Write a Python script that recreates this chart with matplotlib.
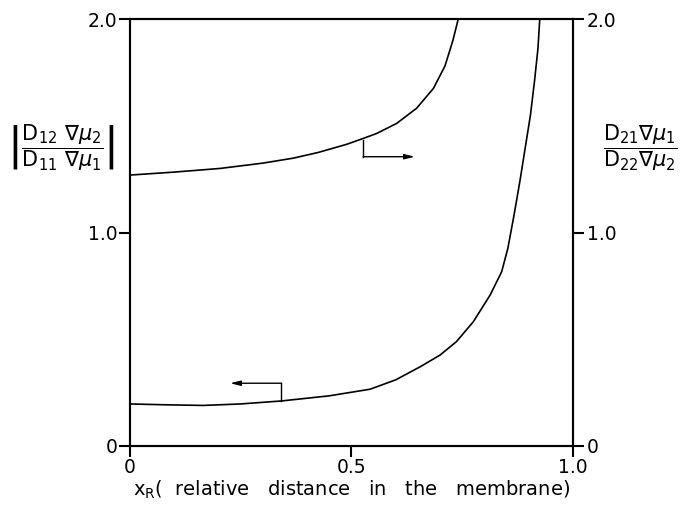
import matplotlib
matplotlib.use('Agg')
import matplotlib.pyplot as plt

# lower curve, read against the left axis
x_left = [0.0, 0.08, 0.165, 0.25, 0.342, 0.45, 0.542, 0.6, 0.655, 0.70, 0.737, 0.775, 0.813,
          0.839, 0.853, 0.867, 0.880, 0.892, 0.904, 0.913, 0.921, 0.925]
y_left = [0.197, 0.193, 0.19, 0.197, 0.211, 0.235, 0.266, 0.31, 0.371, 0.426, 0.489, 0.582, 0.707,
          0.816, 0.926, 1.082, 1.238, 1.394, 1.55, 1.706, 1.863, 2.0]

# upper curve, read against the right axis
x_right = [0.0, 0.1, 0.203, 0.3, 0.368, 0.425, 0.489, 0.527, 0.557, 0.602, 0.647, 0.685, 0.711, 0.729, 0.741]
y_right = [1.269, 1.283, 1.30, 1.325, 1.348, 1.375, 1.413, 1.441, 1.464, 1.511, 1.582, 1.675, 1.78, 1.90, 2.0]

# arrow elbows: start on curve, corner, tip
arrow_left = [(0.342, 0.211), (0.342, 0.294), (0.226, 0.294)]
arrow_right = [(0.526, 1.433), (0.526, 1.355), (0.643, 1.355)]

x_ticks = [0, 0.5, 1.0]
x_ticklabels = ['0', '0.5', '1.0']
y_ticks = [0, 1.0, 2.0]
y_ticklabels = ['0', '1.0', '2.0']

plt.rcParams['font.family'] = ['DejaVu Sans']
plt.rcParams['mathtext.fontset'] = 'dejavusans'

fig = plt.figure(figsize=(6.9, 5.18), dpi=100)
ax = fig.add_axes([0.1884, 0.139, 0.642, 0.8243])
ax2 = ax.twinx()

ax.plot(x_left, y_left, color='black', lw=1.2)
ax2.plot(x_right, y_right, color='black', lw=1.2)

for arr, a in [(arrow_left, ax), (arrow_right, ax2)]:
    a.plot([arr[0][0], arr[1][0]], [arr[0][1], arr[1][1]], color='black', lw=1.0)
    a.annotate('', xy=arr[2], xytext=arr[1],
               arrowprops=dict(arrowstyle='-|>,head_length=0.6,head_width=0.15',
                               color='black', lw=1.0, shrinkA=0, shrinkB=0))

for a in (ax, ax2):
    a.set_xlim(0, 1.0)
    a.set_ylim(0, 2.0)
    for s in a.spines.values():
        s.set_linewidth(1.5)

ax.set_xticks(x_ticks)
ax.set_xticklabels(x_ticklabels)
ax.set_yticks(y_ticks)
ax.set_yticklabels(y_ticklabels)
ax2.set_yticks(y_ticks)
ax2.set_yticklabels(y_ticklabels)
ax.tick_params(axis='both', direction='out', length=8, width=1.5, labelsize=13.5, pad=1)
ax2.tick_params(axis='y', direction='out', length=8, width=1.5, labelsize=13.5, pad=2)

ax.set_xlabel(r'$\mathrm{x_R}$(  relative   distance   in   the   membrane)', fontsize=14, labelpad=1)

fig.text(0.088, 0.715, r'$\left|\dfrac{\mathrm{D_{12}}\ \nabla\mu_2}{\mathrm{D_{11}}\ \nabla\mu_1}\right|$',
         fontsize=15, ha='center', va='center')
fig.text(0.928, 0.715, r'$\dfrac{\mathrm{D_{21}}\nabla\mu_1}{\mathrm{D_{22}}\nabla\mu_2}$',
         fontsize=15, ha='center', va='center')

fig.savefig('out.png', dpi=100)
